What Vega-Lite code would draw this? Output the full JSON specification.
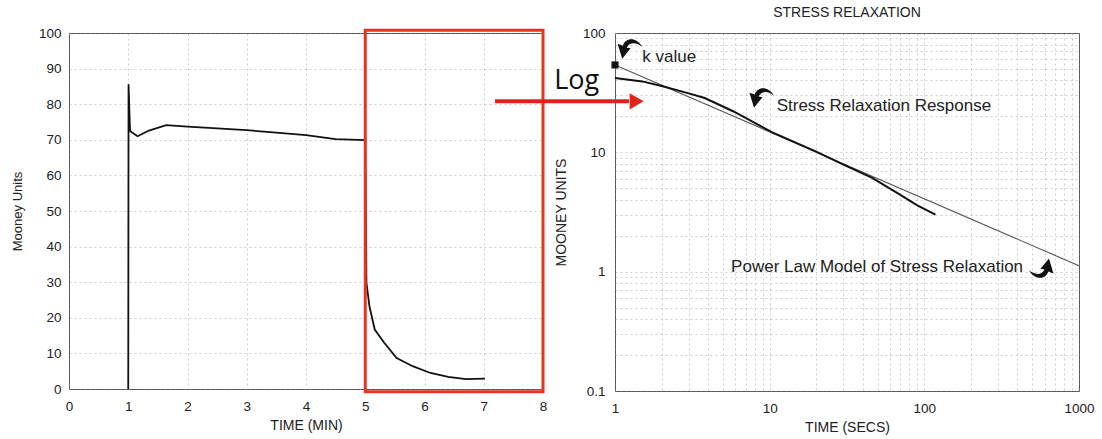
{
  "$schema": "https://vega.github.io/schema/vega-lite/v6.json",
  "background": "white",
  "padding": {"left": 10, "top": 5, "right": 5, "bottom": 3},
  "bounds": "flush",
  "spacing": 72,
  "config": {
    "font": "Liberation Sans",
    "view": {"stroke": "#555", "strokeWidth": 1},
    "axis": {
      "labelFont": "Liberation Sans",
      "titleFont": "Liberation Sans",
      "labelColor": "#222",
      "titleColor": "#222",
      "titleFontWeight": "normal",
      "labelFontSize": 13.5,
      "titleFontSize": 14,
      "labelOverlap": false,
      "labelFlush": false,
      "ticks": false,
      "domain": false,
      "gridColor": "#888",
      "gridDash": [2, 3],
      "gridOpacity": 0.4
    }
  },
  "hconcat": [
    {
      "width": 474,
      "height": 356,
      "encoding": {
        "x": {
          "field": "t", "type": "quantitative",
          "scale": {"domain": [0, 8], "nice": false},
          "axis": {"values": [0, 1, 2, 3, 4, 5, 6, 7, 8], "format": "d", "title": "TIME (MIN)", "labelPadding": 10, "titlePadding": 6, "grid": true}
        },
        "y": {
          "field": "m", "type": "quantitative",
          "scale": {"domain": [0, 100], "nice": false},
          "axis": {"values": [0, 10, 20, 30, 40, 50, 60, 70, 80, 90, 100], "format": "d", "title": "Mooney Units", "titleFontSize": 13, "labelPadding": 8, "titlePadding": 14, "grid": true}
        }
      },
      "layer": [
        {
          "data": {"values": [
            {"i": 0, "t": 1.0, "m": 0},
            {"i": 1, "t": 1.005, "m": 85.6},
            {"i": 2, "t": 1.03, "m": 72.5},
            {"i": 3, "t": 1.157, "m": 71.0},
            {"i": 4, "t": 1.35, "m": 72.6},
            {"i": 5, "t": 1.64, "m": 74.1},
            {"i": 6, "t": 2.0, "m": 73.7},
            {"i": 7, "t": 2.5, "m": 73.2},
            {"i": 8, "t": 3.0, "m": 72.7},
            {"i": 9, "t": 3.5, "m": 72.0},
            {"i": 10, "t": 4.0, "m": 71.3},
            {"i": 11, "t": 4.5, "m": 70.2},
            {"i": 12, "t": 5.0, "m": 69.9},
            {"i": 13, "t": 5.02, "m": 29.9},
            {"i": 14, "t": 5.07, "m": 23.3},
            {"i": 15, "t": 5.16, "m": 16.7},
            {"i": 16, "t": 5.32, "m": 13.0},
            {"i": 17, "t": 5.53, "m": 8.7},
            {"i": 18, "t": 5.8, "m": 6.4},
            {"i": 19, "t": 6.1, "m": 4.5},
            {"i": 20, "t": 6.4, "m": 3.4},
            {"i": 21, "t": 6.7, "m": 2.8},
            {"i": 22, "t": 7.02, "m": 2.9}
          ]},
          "mark": {"type": "line", "color": "#111", "strokeWidth": 1.8},
          "encoding": {"order": {"field": "i"}}
        },
        {
          "data": {"values": [{"t": 5, "t2": 8, "m": -0.8, "m2": 100.8}]},
          "mark": {"type": "rect", "fillOpacity": 0, "fill": "white", "stroke": "#e8341c", "strokeWidth": 3},
          "encoding": {
            "x2": {"field": "t2"},
            "y2": {"field": "m2"}
          }
        },
        {
          "data": {"values": [{"t": 7.19, "t2": 9.45, "m": 80.8}]},
          "mark": {"type": "rule", "color": "#e2201c", "strokeWidth": 4},
          "encoding": {
            "x2": {"field": "t2"}
          }
        },
        {
          "data": {"values": [{"t": 9.58, "m": 80.8}]},
          "mark": {"type": "point", "shape": "triangle-right", "filled": true, "color": "#e2201c", "size": 260, "opacity": 1},
          "encoding": {}
        },
        {
          "data": {"values": [{"t": 8.57, "m": 86.6, "label": "Log"}]},
          "mark": {"type": "text", "font": "Open Sans", "fontSize": 27, "color": "#111", "align": "center", "baseline": "middle"},
          "encoding": {
            "text": {"field": "label"}
          }
        }
      ]
    },
    {
      "width": 464,
      "height": 358,
      "title": {"text": "STRESS RELAXATION", "fontSize": 14, "fontWeight": "normal", "font": "Liberation Sans", "color": "#222", "offset": 6},
      "encoding": {
        "x": {
          "field": "s", "type": "quantitative",
          "scale": {"type": "log", "domain": [1, 1000], "nice": false},
          "axis": {
            "values": [1, 2, 3, 4, 5, 6, 7, 8, 9, 10, 20, 30, 40, 50, 60, 70, 80, 90, 100, 200, 300, 400, 500, 600, 700, 800, 900, 1000],
            "labelExpr": "indexof([1, 10, 100, 1000], datum.value) >= 0 ? datum.value + '' : ''",
            "title": "TIME (SECS)", "labelPadding": 10, "titlePadding": 6, "grid": true
          }
        },
        "y": {
          "field": "u", "type": "quantitative",
          "scale": {"type": "log", "domain": [0.1, 100], "nice": false},
          "axis": {
            "values": [0.1, 0.2, 0.3, 0.4, 0.5, 0.6, 0.7, 0.8, 0.9, 1, 2, 3, 4, 5, 6, 7, 8, 9, 10, 20, 30, 40, 50, 60, 70, 80, 90, 100],
            "labelExpr": "indexof([0.1, 1, 10, 100], datum.value) >= 0 ? datum.value + '' : ''",
            "title": "MOONEY UNITS", "labelPadding": 10, "titlePadding": 14, "grid": true
          }
        }
      },
      "layer": [
        {
          "data": {"values": [{"s": 1, "u": 54}, {"s": 1000, "u": 1.12}]},
          "mark": {"type": "line", "color": "#555", "strokeWidth": 1.1},
          "encoding": {}
        },
        {
          "data": {"values": [
            {"s": 1, "u": 42},
            {"s": 1.5, "u": 39.3},
            {"s": 2, "u": 35.9},
            {"s": 3, "u": 31.2},
            {"s": 3.8, "u": 28.5},
            {"s": 5.8, "u": 22.1},
            {"s": 10.4, "u": 14.7},
            {"s": 19.8, "u": 10.2},
            {"s": 30, "u": 7.9},
            {"s": 46, "u": 6.1},
            {"s": 70, "u": 4.4},
            {"s": 90, "u": 3.6},
            {"s": 118, "u": 3.0}
          ]},
          "mark": {"type": "line", "color": "#111", "strokeWidth": 2},
          "encoding": {}
        },
        {
          "data": {"values": [{"s": 1, "u": 54}]},
          "mark": {"type": "point", "shape": "square", "filled": true, "color": "#111", "size": 50, "opacity": 1},
          "encoding": {}
        },
        {
          "data": {"values": [
            {"s": 1.5, "u": 63, "label": "k value"},
            {"s": 11.1, "u": 24.5, "label": "Stress Relaxation Response"}
          ]},
          "mark": {"type": "text", "fontSize": 17, "color": "#222", "align": "left", "baseline": "middle"},
          "encoding": {"text": {"field": "label"}}
        },
        {
          "data": {"values": [{"s": 435, "u": 1.09, "label": "Power Law Model of Stress Relaxation"}]},
          "mark": {"type": "text", "fontSize": 17, "color": "#222", "align": "right", "baseline": "middle"},
          "encoding": {"text": {"field": "label"}}
        },
        {
          "data": {"values": [{"s": 1.25, "u": 73.5}, {"s": 8.9, "u": 28.6}]},
          "mark": {"type": "point", "filled": true, "color": "#111", "opacity": 1, "size": 680,
                   "shape": "M 0.95 -0.15 C 0.5 -0.95 -0.35 -0.9 -0.55 -0.25 L -0.95 -0.4 L -0.6 0.75 L 0.05 -0.05 L -0.25 -0.1 C -0.05 -0.55 0.5 -0.55 0.95 -0.15 Z"},
          "encoding": {}
        },
        {
          "data": {"values": [{"s": 569, "u": 1.07}]},
          "mark": {"type": "point", "filled": true, "color": "#111", "opacity": 1, "size": 680, "angle": 180,
                   "shape": "M 0.95 -0.15 C 0.5 -0.95 -0.35 -0.9 -0.55 -0.25 L -0.95 -0.4 L -0.6 0.75 L 0.05 -0.05 L -0.25 -0.1 C -0.05 -0.55 0.5 -0.55 0.95 -0.15 Z"},
          "encoding": {}
        }
      ]
    }
  ]
}
